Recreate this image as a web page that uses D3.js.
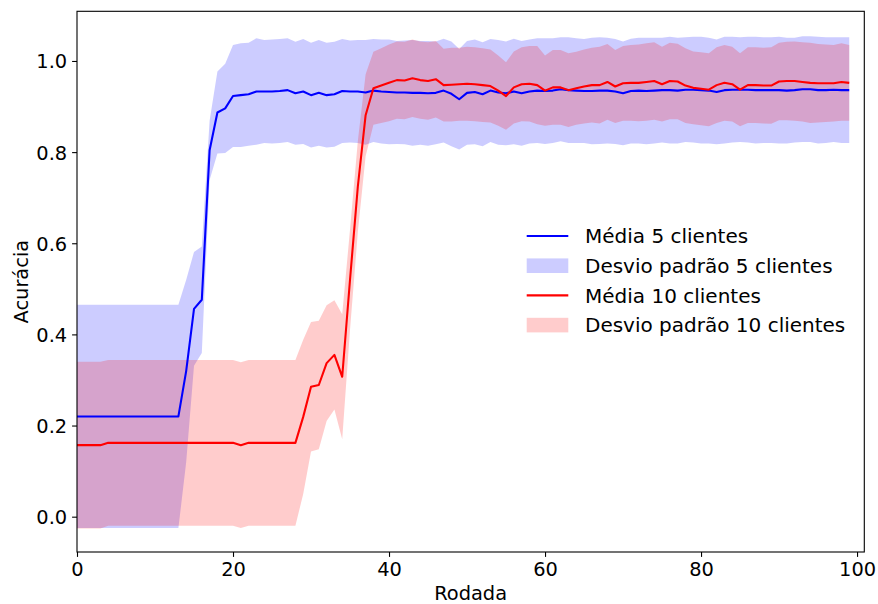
<!DOCTYPE html>
<html>
<head>
<meta charset="utf-8">
<script src="https://cdn.jsdelivr.net/npm/d3@7"></script>
<style>
  html, body { margin: 0; padding: 0; background: #fff; }
  svg { display: block; }
  text { font-family: "DejaVu Sans", sans-serif; fill: #000; }
</style>
</head>
<body>
<div id="chart"></div>
<script>
// Accuracy per round: mean and standard deviation for 5 and 10 clients
const rounds = d3.range(100);

const mean5 = [
  0.22, 0.22, 0.22, 0.22, 0.22, 0.22, 0.22, 0.22, 0.22, 0.22,
  0.22, 0.22, 0.22, 0.22, 0.32, 0.456, 0.476, 0.804, 0.887, 0.896,
  0.923, 0.925, 0.927, 0.933, 0.933, 0.933, 0.934, 0.936, 0.929, 0.933,
  0.925, 0.930, 0.925, 0.927, 0.934, 0.933, 0.933, 0.931, 0.935, 0.933,
  0.932, 0.931, 0.931, 0.930, 0.930, 0.929, 0.930, 0.935, 0.928, 0.916,
  0.930, 0.932, 0.927, 0.935, 0.931, 0.929, 0.933, 0.929, 0.933, 0.935,
  0.934, 0.935, 0.938, 0.936, 0.935, 0.934, 0.934, 0.935, 0.935, 0.933,
  0.929, 0.934, 0.935, 0.934, 0.935, 0.936, 0.936, 0.935, 0.937, 0.937,
  0.936, 0.935, 0.932, 0.936, 0.937, 0.937, 0.937, 0.936, 0.936, 0.936,
  0.936, 0.935, 0.936, 0.938, 0.938, 0.936, 0.936, 0.937, 0.936, 0.936
];

const std5 = [
  0.245, 0.245, 0.245, 0.245, 0.245, 0.245, 0.245, 0.245, 0.245, 0.245,
  0.245, 0.245, 0.245, 0.245, 0.200, 0.125, 0.117, 0.065, 0.090, 0.098,
  0.112, 0.114, 0.113, 0.117, 0.113, 0.114, 0.114, 0.114, 0.113, 0.115,
  0.115, 0.116, 0.115, 0.115, 0.114, 0.112, 0.113, 0.115, 0.113, 0.114,
  0.115, 0.113, 0.114, 0.116, 0.114, 0.115, 0.113, 0.114, 0.115, 0.110,
  0.114, 0.115, 0.114, 0.113, 0.115, 0.114, 0.116, 0.115, 0.114, 0.115,
  0.116, 0.115, 0.114, 0.116, 0.115, 0.114, 0.117, 0.117, 0.116, 0.115,
  0.114, 0.115, 0.116, 0.117, 0.116, 0.115, 0.117, 0.116, 0.115, 0.116,
  0.117, 0.116, 0.115, 0.117, 0.116, 0.115, 0.116, 0.117, 0.116, 0.116,
  0.117, 0.116, 0.115, 0.116, 0.116, 0.117, 0.116, 0.115, 0.116, 0.116
];

const mean10 = [
  0.157, 0.157, 0.157, 0.157, 0.162, 0.162, 0.162, 0.162, 0.162, 0.162,
  0.162, 0.162, 0.162, 0.162, 0.162, 0.162, 0.162, 0.162, 0.162, 0.162,
  0.162, 0.157, 0.162, 0.162, 0.162, 0.162, 0.162, 0.162, 0.162, 0.219,
  0.285, 0.289, 0.337, 0.355, 0.307, 0.520, 0.724, 0.881, 0.940, 0.946,
  0.952, 0.958, 0.957, 0.962, 0.958, 0.956, 0.960, 0.947, 0.948, 0.949,
  0.950, 0.949, 0.947, 0.945, 0.935, 0.923, 0.942, 0.949, 0.950, 0.947,
  0.935, 0.942, 0.942, 0.936, 0.940, 0.944, 0.947, 0.947, 0.954, 0.944,
  0.951, 0.952, 0.952, 0.954, 0.956, 0.949, 0.956, 0.955, 0.946, 0.941,
  0.939, 0.937, 0.947, 0.952, 0.949, 0.937, 0.947, 0.947, 0.946, 0.946,
  0.955, 0.956, 0.956, 0.954, 0.952, 0.951, 0.951, 0.951, 0.954, 0.952
];

const std10 = [
  0.183, 0.183, 0.183, 0.183, 0.182, 0.182, 0.182, 0.182, 0.182, 0.182,
  0.182, 0.182, 0.182, 0.182, 0.182, 0.182, 0.182, 0.182, 0.182, 0.182,
  0.182, 0.182, 0.182, 0.182, 0.182, 0.182, 0.182, 0.182, 0.182, 0.169,
  0.142, 0.141, 0.127, 0.120, 0.137, 0.110, 0.100, 0.090, 0.080, 0.082,
  0.084, 0.085, 0.085, 0.085, 0.085, 0.085, 0.084, 0.080, 0.081, 0.080,
  0.081, 0.081, 0.081, 0.080, 0.077, 0.074, 0.079, 0.081, 0.083, 0.086,
  0.077, 0.082, 0.082, 0.081, 0.080, 0.081, 0.082, 0.084, 0.083, 0.080,
  0.082, 0.083, 0.084, 0.085, 0.085, 0.082, 0.084, 0.083, 0.082, 0.080,
  0.080, 0.080, 0.083, 0.083, 0.082, 0.080, 0.083, 0.083, 0.083, 0.084,
  0.085, 0.086, 0.087, 0.087, 0.088, 0.086, 0.085, 0.084, 0.085, 0.083
];

const xTicks = [0, 20, 40, 60, 80, 100];
const yTicks = [0.0, 0.2, 0.4, 0.6, 0.8, 1.0];

const seriesLabels = ["Média 5 clientes", "Desvio padrão 5 clientes",
                      "Média 10 clientes", "Desvio padrão 10 clientes"];
const xLabel = "Rodada";
const yLabel = "Acurácia";

const W = 878, H = 604;
const plot = { left: 77, right: 864.3, top: 11.3, bottom: 552 };
const fontSize = 19.4;
const legendFontSize = 20;

const svg = d3.select("#chart").append("svg")
  .attr("width", W).attr("height", H);

const x = d3.scaleLinear().domain([0, 100.93]).range([plot.left, plot.right]);
const y = d3.scaleLinear().domain([-0.0775, 1.109]).range([plot.bottom, plot.top]);

const series = [
  { mean: mean5, std: std5, line: "#0000ff", fill: "#0000ff" },
  { mean: mean10, std: std10, line: "#ff0000", fill: "#ff0000" }
];

const area = (s) => d3.area()
  .x((d, i) => x(rounds[i]))
  .y0((d, i) => y(s.mean[i] - s.std[i]))
  .y1((d, i) => y(s.mean[i] + s.std[i]));

const line = (s) => d3.line()
  .x((d, i) => x(rounds[i]))
  .y((d, i) => y(s.mean[i]));

const g = svg.append("g");

// Standard deviation bands below the mean lines
series.forEach(s => {
  g.append("path")
    .attr("d", area(s)(s.mean))
    .attr("fill", s.fill)
    .attr("fill-opacity", 0.2)
    .attr("stroke", "none");
});

series.forEach(s => {
  g.append("path")
    .attr("d", line(s)(s.mean))
    .attr("fill", "none")
    .attr("stroke", s.line)
    .attr("stroke-width", 2.08)
    .attr("stroke-linejoin", "round");
});

// Axes
const xAxis = d3.axisBottom(x).tickValues(xTicks).tickFormat(d3.format("d"))
  .tickSize(4.9).tickPadding(4.9);
const yAxis = d3.axisLeft(y).tickValues(yTicks).tickFormat(d3.format(".1f"))
  .tickSize(4.9).tickPadding(4.9);

const gx = svg.append("g").attr("transform", `translate(0,${plot.bottom})`).call(xAxis);
const gy = svg.append("g").attr("transform", `translate(${plot.left},0)`).call(yAxis);

[gx, gy].forEach(a => {
  a.select(".domain").remove();
  a.selectAll(".tick line").attr("stroke", "#000").attr("stroke-width", 1.1);
  a.selectAll(".tick text")
    .attr("font-family", "DejaVu Sans, sans-serif")
    .attr("font-size", fontSize)
    .attr("fill", "#000");
});
gx.selectAll(".tick text").attr("dy", "0.74em");
gy.selectAll(".tick text").attr("dy", "0.36em");

// Frame
svg.append("rect")
  .attr("x", plot.left).attr("y", plot.top)
  .attr("width", plot.right - plot.left).attr("height", plot.bottom - plot.top)
  .attr("fill", "none").attr("stroke", "#000").attr("stroke-width", 1.1);

// Axis titles
svg.append("text")
  .attr("x", (plot.left + plot.right) / 2).attr("y", 600)
  .attr("text-anchor", "middle").attr("font-size", fontSize)
  .text(xLabel);

svg.append("text")
  .attr("transform", `translate(28,${(plot.top + plot.bottom) / 2}) rotate(-90)`)
  .attr("text-anchor", "middle").attr("font-size", fontSize)
  .text(yLabel);

// Legend
const legend = svg.append("g").attr("transform", "translate(526.7,236)");
const rowH = 29.7;
const items = [
  { kind: "line", color: "#0000ff" },
  { kind: "patch", color: "#0000ff" },
  { kind: "line", color: "#ff0000" },
  { kind: "patch", color: "#ff0000" }
];
items.forEach((it, i) => {
  const row = legend.append("g").attr("transform", `translate(0,${i * rowH})`);
  if (it.kind === "line") {
    row.append("line").attr("x1", 0).attr("x2", 41.6).attr("y1", 0).attr("y2", 0)
      .attr("stroke", it.color).attr("stroke-width", 2.08);
  } else {
    row.append("rect").attr("x", 0).attr("y", -7.3).attr("width", 41.6).attr("height", 14.6)
      .attr("fill", it.color).attr("fill-opacity", 0.2);
  }
  row.append("text").attr("x", 58.3).attr("y", 0).attr("dy", "0.36em")
    .attr("font-size", legendFontSize).text(seriesLabels[i]);
});
</script>
</body>
</html>
